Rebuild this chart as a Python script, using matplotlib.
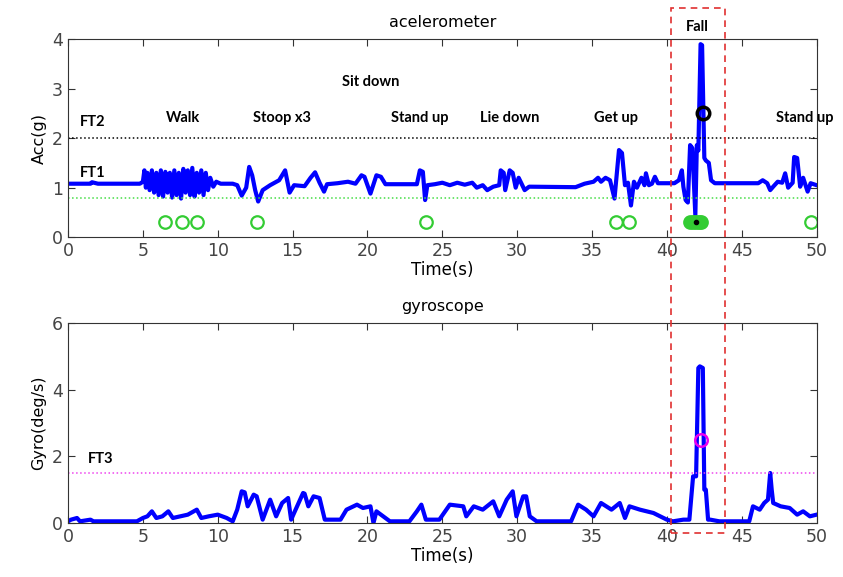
import matplotlib
matplotlib.use("Agg")
import matplotlib.pyplot as plt
from matplotlib.patches import Rectangle
from matplotlib.transforms import blended_transform_factory

# accelerometer magnitude (g)
acc_t = [0.0, 1.5, 1.6, 2.0, 4.8, 5.0, 5.1, 5.2, 5.3, 5.45, 5.6, 5.75, 5.9, 6.05,
         6.2, 6.35, 6.5, 6.65, 6.8, 6.95, 7.1, 7.25, 7.4, 7.55, 7.7, 7.85, 8.0,
         8.15, 8.3, 8.45, 8.6, 8.75, 8.9, 9.05, 9.2, 9.35, 9.5, 9.7, 9.9, 10.2,
         11.0, 11.3, 11.6, 11.9, 12.1, 12.3, 12.5, 12.7, 13.0, 13.5, 14.1, 14.5,
         14.8, 15.1, 15.8, 16.2, 16.5, 16.8, 17.1, 17.3, 18.0, 18.7, 19.2, 19.6,
         19.8, 20.2, 20.6, 20.9, 21.2, 23.3, 23.5, 23.7, 23.85, 24.0, 24.5, 25.0,
         25.5, 26.0, 26.5, 27.0, 27.3, 27.7, 28.0, 28.4, 28.8, 28.9, 29.1, 29.2,
         29.5, 29.7, 29.9, 30.1, 30.5, 30.8, 33.9, 34.5, 35.1, 35.4, 35.6, 35.9,
         36.2, 36.5, 36.8, 37.0, 37.2, 37.4, 37.6, 37.8, 38.0, 38.3, 38.5, 38.6,
         38.8, 39.0, 39.2, 39.4, 40.5, 40.8, 41.0, 41.1, 41.25, 41.4, 41.55,
         41.7, 41.9, 42.0, 42.1, 42.25, 42.35, 42.5, 42.6, 42.8, 42.95, 43.2,
         46.1, 46.4, 46.7, 46.9, 47.1, 47.4, 47.7, 47.9, 48.1, 48.4, 48.5, 48.7,
         48.9, 49.1, 49.4, 49.6, 50.0]
acc_v = [1.08, 1.08, 1.11, 1.08, 1.08, 1.12, 1.35, 1.0, 1.3, 0.95, 1.35, 0.9, 1.3, 0.85,
         1.35, 0.82, 1.32, 0.9, 1.3, 0.8, 1.35, 0.85, 1.3, 0.78, 1.38, 0.9, 1.35,
         0.85, 1.4, 0.82, 1.3, 0.9, 1.35, 0.85, 1.3, 0.95, 1.2, 1.02, 1.12, 1.08,
         1.08, 1.05, 0.84, 1.0, 1.42, 1.25, 0.95, 0.72, 0.95, 1.05, 1.15, 1.35,
         0.9, 1.05, 1.03, 1.2, 1.31, 1.1, 0.92, 1.07, 1.09, 1.12, 1.08, 1.25,
         1.22, 0.88, 1.25, 1.22, 1.07, 1.07, 1.35, 1.32, 0.75, 1.05, 1.07, 1.1,
         1.05, 1.1, 1.06, 1.1, 1.0, 1.05, 0.95, 1.02, 1.05, 1.35, 1.3, 0.95,
         1.35, 1.3, 1.0, 1.2, 0.95, 1.02, 1.01, 1.08, 1.12, 1.2, 1.12, 1.2,
         1.15, 0.78, 1.76, 1.7, 1.05, 1.1, 0.64, 1.12, 1.0, 1.2, 1.05, 1.29,
         1.05, 1.08, 1.22, 1.09, 1.09, 1.15, 1.35, 1.02, 0.75, 0.7, 1.86,
         1.8, 0.44, 1.86, 1.75, 3.9, 3.88, 1.6, 1.55, 1.5, 1.15, 1.09,
         1.09, 1.15, 1.09, 0.95, 1.02, 1.12, 1.1, 1.29, 1.0, 1.1, 1.62, 1.6,
         1.02, 1.2, 0.92, 1.09, 1.05]

# gyroscope magnitude (deg/s)
gyro_t = [0.0, 0.2, 0.6, 0.8, 1.5, 1.7, 4.6, 5.0, 5.3, 5.6, 5.9, 6.3, 6.7, 7.0,
          7.5, 8.0, 8.6, 8.9, 9.4, 10.0, 10.6, 11.0, 11.3, 11.6, 11.8, 12.0,
          12.4, 12.6, 13.0, 13.5, 13.9, 14.3, 14.7, 14.9, 15.3, 15.7, 15.8,
          16.05, 16.4, 16.8, 17.15, 17.6, 18.2, 18.6, 19.3, 19.7, 20.2, 20.4,
          20.6, 21.05, 21.5, 22.8, 23.3, 23.6, 23.9, 24.2, 24.8, 25.5, 26.4,
          26.6, 27.1, 27.7, 28.4, 28.8, 29.3, 29.7, 29.95, 30.4, 30.6, 30.84,
          31.3, 33.6, 34.07, 34.6, 35.1, 35.6, 36.3, 36.85, 37.2, 37.5, 38.2,
          39.1, 40.0, 40.4, 41.1, 41.5, 41.75, 41.95, 42.1, 42.2, 42.4, 42.5,
          42.6, 42.75, 42.9, 43.5, 45.5, 45.75, 46.2, 46.5, 46.75, 46.9, 47.0,
          47.1, 47.6, 48.2, 48.7, 49.1, 49.55, 50.0]
gyro_v = [0.05, 0.1, 0.15, 0.05, 0.1, 0.05, 0.05, 0.15, 0.2, 0.35, 0.15, 0.2, 0.35, 0.15,
          0.2, 0.25, 0.4, 0.15, 0.2, 0.25, 0.15, 0.05, 0.4, 0.95, 0.92, 0.5,
          0.85, 0.8, 0.1, 0.7, 0.2, 0.6, 0.75, 0.1, 0.5, 0.9, 0.88,
          0.5, 0.8, 0.75, 0.1, 0.1, 0.1, 0.4, 0.55, 0.45, 0.5, 0.0,
          0.35, 0.2, 0.05, 0.05, 0.35, 0.55, 0.1, 0.1, 0.1, 0.55, 0.5,
          0.2, 0.5, 0.4, 0.65, 0.2, 0.7, 0.95, 0.2, 0.8, 0.8, 0.2,
          0.05, 0.05, 0.55, 0.4, 0.2, 0.6, 0.4, 0.6, 0.15, 0.5, 0.4,
          0.3, 0.1, 0.05, 0.1, 0.1, 1.4, 1.4, 4.65, 4.7, 4.65, 1.0,
          1.0, 0.1, 0.1, 0.05, 0.05, 0.5, 0.4, 0.6, 0.7, 1.5, 1.0,
          0.6, 0.5, 0.45, 0.25, 0.35, 0.2, 0.25]

# thresholds and detections
ft1, ft2, ft3 = 0.8, 2.0, 1.5
green_t = [6.5, 7.6, 8.6, 12.6, 23.9, 36.6, 37.5, 49.6]
green_y = 0.3
fall_green_t = [41.55, 41.75, 41.95, 42.15, 42.3]
acc_fall_t, acc_fall_y = 42.4, 2.5
gyro_fall_t, gyro_fall_y = 42.3, 2.5

activities = ["Walk", "Stoop x3", "Stand up", "Lie down", "Get up", "Stand up"]
activity_x = [7.7, 14.3, 23.5, 29.5, 36.6, 49.2]

plt.rcParams['font.family'] = ['DejaVu Sans']
fig = plt.figure(figsize=(8.43, 5.77), dpi=100)
ax1 = fig.add_axes([0.0807, 0.589, 0.888, 0.343])
ax2 = fig.add_axes([0.0807, 0.0936, 0.888, 0.3466])

bold = dict(family=['Lato', 'DejaVu Sans'], fontweight='bold', fontsize=10.5)
sig_lw = 3.0

ax1.plot(acc_t, acc_v, color='#0000ff', lw=sig_lw)
ax1.axhline(ft2, color='black', ls=':', lw=1.1)
ax1.axhline(ft1, color='#44dd44', ls=':', lw=1.1)
ax1.plot(green_t, [green_y] * len(green_t), 'o', ms=9, mfc='none',
         mec='#33cc33', mew=1.6)
ax1.plot(fall_green_t, [green_y] * len(fall_green_t), 'o', ms=9,
         mfc='#33cc33', mec='#33cc33', mew=1.6)
ax1.plot([41.95], [green_y], 'o', ms=3, color='black')
ax1.plot([acc_fall_t], [acc_fall_y], 'o', ms=9, mfc='none', mec='black', mew=2.5)

for name, x in zip(activities, activity_x):
    ax1.text(x, 2.4, name, ha='center', va='center', clip_on=False, **bold)
ax1.text(20.2, 3.13, "Sit down", ha='center', va='center', **bold)
ax1.text(42.05, 4.24, "Fall", ha='center', va='center', clip_on=False, **bold)
ax1.text(0.8, 2.32, "FT2", ha='left', va='center', **bold)
ax1.text(0.8, 1.29, "FT1", ha='left', va='center', **bold)

ax1.set_xlim(0, 50)
ax1.set_ylim(0, 4)
ax1.set_yticks([0, 1, 2, 3, 4])
ax1.set_title("acelerometer", fontsize=11.5, pad=9)
ax1.set_xlabel("Time(s)", fontsize=12, labelpad=1)
ax1.set_ylabel("Acc(g)", fontsize=11.5, labelpad=4)

ax2.plot(gyro_t, gyro_v, color='#0000ff', lw=sig_lw)
ax2.axhline(ft3, color='#ee44ee', ls=':', lw=1.1)
ax2.plot([gyro_fall_t], [gyro_fall_y], 'o', ms=9, mfc='none', mec='#ee00ee', mew=1.8)
ax2.text(1.35, 1.92, "FT3", ha='left', va='center', **bold)
ax2.set_xlim(0, 50)
ax2.set_ylim(0, 6)
ax2.set_yticks([0, 2, 4, 6])
ax2.set_title("gyroscope", fontsize=11.5, pad=9)
ax2.set_xlabel("Time(s)", fontsize=12, labelpad=1)
ax2.set_ylabel("Gyro(deg/s)", fontsize=11.5, labelpad=4)

for ax in (ax1, ax2):
    ax.set_xticks(range(0, 51, 5))
    ax.tick_params(direction='in', top=True, right=True, length=5,
                   labelsize=12.5, colors='#333333', labelcolor='#444444')
    for sp in ax.spines.values():
        sp.set_color('#333333')

# dashed box around the fall, spanning both panels
trans = blended_transform_factory(ax1.transData, fig.transFigure)
box = Rectangle((40.3, 0.076), 3.6, 0.91, transform=trans, fill=False,
                ec='#e03030', ls=(0, (4, 3)), lw=1.2, clip_on=False)
fig.add_artist(box)

fig.savefig("out.png", dpi=100)
